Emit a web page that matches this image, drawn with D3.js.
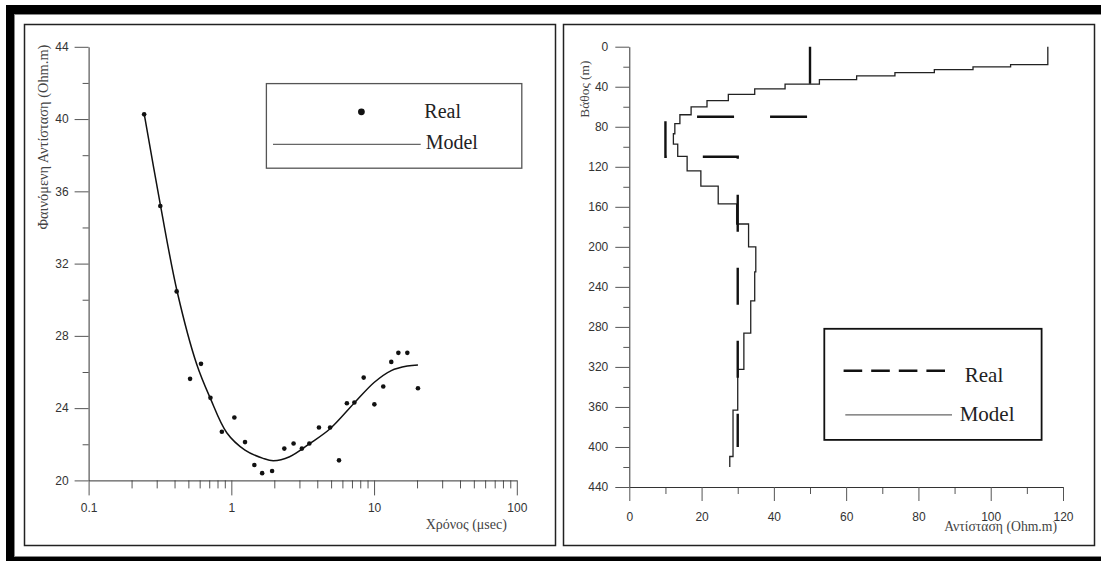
<!DOCTYPE html>
<html><head><meta charset="utf-8">
<script src="https://cdn.jsdelivr.net/npm/d3@7"></script>
<style>body{margin:0;background:#fff}svg{display:block}</style>
</head><body>
<svg id="c" width="1101" height="561"></svg>
<script>
// ---------- Left chart: apparent resistivity vs time ----------
const realTime = [0.245,0.318,0.414,0.514,0.613,0.714,0.858,1.05,1.247,1.45,1.644,1.93,2.35,2.73,3.12,3.52,4.11,4.92,5.68,6.45,7.28,8.46,10.05,11.6,13.2,14.8,17.1,20.3];
const realRho  = [40.26,35.19,30.46,25.62,26.45,24.57,22.69,23.48,22.12,20.85,20.40,20.52,21.76,22.04,21.76,22.04,22.93,22.93,21.11,24.27,24.31,25.69,24.21,25.20,26.56,27.06,27.06,25.10];
const modelTime = [0.245,0.32,0.418,0.572,0.713,0.929,1.247,1.67,1.97,2.56,3.56,4.92,7.24,10.0,13.2,17.1,20.3];
const modelRho  = [40.3,35.15,30.43,26.43,24.54,22.64,21.68,21.22,21.09,21.31,22.05,22.86,24.27,25.42,26.08,26.33,26.39];
const leftXTicks = [0.1,1,10,100];
const leftXMinor = [0.2,0.3,0.4,0.5,0.6,0.7,0.8,0.9,2,3,4,5,6,7,8,9,20,30,40,50,60,70,80,90];
const leftYTicks = [20,24,28,32,36,40,44];
const leftYMinor = [22,26,30,34,38,42];
const leftXTitle = "Χρόνος (μsec)";
const leftYTitle = "Φαινόμενη Αντίσταση (Ohm.m)";

// ---------- Right chart: resistivity vs depth ----------
const modelRes    = [115.8,105.5,95.1,84.4,73.5,62.9,52.6,43.1,34.7,27.4,21.5,17.1,14.0,12.6,12.2,13.4,16.0,19.8,24.6,29.7,33.0,35.0,34.7,33.6,31.7,30.0,28.7,27.8];
const modelTop    = [0,18,20.2,23,26,29.2,33,37.4,42.2,47.6,53.8,60.2,68,76.8,87,97.3,109.5,124,139.3,157,177.2,200,225,254,286.2,322.5,363.2,409.5];
const modelBottom = [18,20.2,23,26,29.2,33,37.4,42.2,47.6,53.8,60.2,68,76.8,87,97.3,109.5,124,139.3,157,177.2,200,225,254,286.2,322.5,363.2,409.5,420];
const realRes    = [50,10,30];
const realTop    = [0,70,110];
const realBottom = [70,110,400];
const rightXTicks = [0,20,40,60,80,100,120];
const rightXMinor = [10,30,50,70,90,110];
const rightYTicks = [0,40,80,120,160,200,240,280,320,360,400,440];
const rightYMinor = [20,60,100,140,180,220,260,300,340,380,420];
const rightXTitle = "Αντίσταση (Ohm.m)";
const rightYTitle = "Βάθος (m)";
const legendLabels = ["Real","Model"];

const svg = d3.select("#c");
const SANS = "'Liberation Sans', Arial, sans-serif";
const SERIF = "'Liberation Serif', 'Times New Roman', serif";

// ---------- frame ----------
svg.append("rect").attr("x",6).attr("y",5).attr("width",1095).attr("height",556).attr("fill","#000");
svg.append("rect").attr("x",14.5).attr("y",14.5).attr("width",1090).attr("height",542)
   .attr("fill","#fff").attr("stroke","#888").attr("stroke-width",1);
[[24.5,24.5],[563.5,24.5]].forEach(([x,y])=>{
  svg.append("rect").attr("x",x).attr("y",y).attr("width",531).attr("height",521)
     .attr("fill","#fff").attr("stroke","#222").attr("stroke-width",1.5);
});

function styleAxis(g){
  g.attr("font-family",SANS).attr("font-size",12);
  g.select(".domain").attr("stroke","#333").attr("stroke-width",1);
  g.selectAll(".tick line").attr("stroke","#555").attr("stroke-width",1);
  g.selectAll(".tick text").attr("fill","#333");
}
function minorAxis(g){
  g.select(".domain").remove();
  g.selectAll(".tick line").attr("stroke","#555").attr("stroke-width",1);
}

// ---------- left chart ----------
const x1 = d3.scaleLog().domain([0.1,100]).range([88.6,516.8]);
const y1 = d3.scaleLinear().domain([20,44]).range([480.4,46.8]);

svg.append("g").attr("transform","translate(88.6,0)")
  .call(d3.axisLeft(y1).tickValues(leftYMinor).tickSize(6).tickFormat("")).call(minorAxis);
svg.append("g").attr("transform","translate(88.6,0)")
  .call(d3.axisLeft(y1).tickValues(leftYTicks).tickSize(14).tickSizeOuter(0).tickPadding(6).tickFormat(d3.format("d"))).call(styleAxis);
svg.append("g").attr("transform","translate(0,480.4)")
  .call(d3.axisBottom(x1).tickValues(leftXMinor).tickSize(8).tickFormat("")).call(minorAxis);
svg.append("g").attr("transform","translate(0,480.4)")
  .call(d3.axisBottom(x1).tickValues(leftXTicks).tickSize(15).tickSizeOuter(0).tickPadding(8).tickFormat(d=>String(d))).call(styleAxis);

const modelPts = modelTime.map((t,i)=>[t,modelRho[i]]);
svg.append("path").datum(modelPts)
  .attr("d",d3.line().x(d=>x1(d[0])).y(d=>y1(d[1])).curve(d3.curveCatmullRom.alpha(0.5)))
  .attr("fill","none").attr("stroke","#111").attr("stroke-width",1.5);
svg.append("g").selectAll("circle").data(realTime.map((t,i)=>[t,realRho[i]])).join("circle")
  .attr("cx",d=>x1(d[0])).attr("cy",d=>y1(d[1])).attr("r",2.3).attr("fill","#111");

svg.append("text").attr("x",425.7).attr("y",529.3).attr("font-family",SERIF).attr("font-size",14)
  .attr("fill","#444").text(leftXTitle);
svg.append("text").attr("transform","translate(47.5,44.6) rotate(-90)").attr("text-anchor","end")
  .attr("font-family",SERIF).attr("font-size",14.4).attr("fill","#444").text(leftYTitle);

// left legend
const lg = svg.append("g");
lg.append("rect").attr("x",266.4).attr("y",83.6).attr("width",255.4).attr("height",84.6)
  .attr("fill","#fff").attr("stroke","#555").attr("stroke-width",1.3);
lg.append("circle").attr("cx",361.4).attr("cy",111.8).attr("r",3.4).attr("fill","#111");
lg.append("line").attr("x1",273).attr("x2",420.7).attr("y1",144.3).attr("y2",144.3)
  .attr("stroke","#666").attr("stroke-width",1.2);
lg.append("text").attr("x",424.3).attr("y",118).attr("font-family",SERIF).attr("font-size",20).attr("fill","#222").text(legendLabels[0]);
lg.append("text").attr("x",425.7).attr("y",149.3).attr("font-family",SERIF).attr("font-size",20).attr("fill","#222").text(legendLabels[1]);

// ---------- right chart ----------
const x2 = d3.scaleLinear().domain([0,120]).range([629.3,1063]);
const y2 = d3.scaleLinear().domain([0,440]).range([46.7,487]);

svg.append("g").attr("transform","translate(629.3,0)")
  .call(d3.axisLeft(y2).tickValues(rightYMinor).tickSize(6).tickFormat("")).call(minorAxis);
svg.append("g").attr("transform","translate(629.3,0)")
  .call(d3.axisLeft(y2).tickValues(rightYTicks).tickSize(14).tickSizeOuter(0).tickPadding(7)).call(styleAxis);
svg.append("g").attr("transform","translate(0,487)")
  .call(d3.axisBottom(x2).tickValues(rightXMinor).tickSize(7).tickFormat("")).call(minorAxis);
svg.append("g").attr("transform","translate(0,487)")
  .call(d3.axisBottom(x2).tickValues(rightXTicks).tickSize(14).tickSizeOuter(0).tickPadding(11)).call(styleAxis);

const stepPts = (res,top,bot)=>res.flatMap((r,i)=>[[r,top[i]],[r,bot[i]]]);
const lineR = d3.line().x(d=>x2(d[0])).y(d=>y2(d[1]));
svg.append("path").datum(stepPts(modelRes,modelTop,modelBottom)).attr("d",lineR)
  .attr("fill","none").attr("stroke","#222").attr("stroke-width",1.3);
svg.append("path").datum(stepPts(realRes,realTop,realBottom)).attr("d",lineR)
  .attr("fill","none").attr("stroke","#111").attr("stroke-width",2.4).attr("stroke-dasharray","37 36");

svg.append("text").attr("x",944.2).attr("y",531).attr("font-family",SERIF).attr("font-size",13.7)
  .attr("fill","#444").text(rightXTitle);
svg.append("text").attr("transform","translate(589,60.6) rotate(-90)").attr("text-anchor","end")
  .attr("font-family",SERIF).attr("font-size",13.4).attr("fill","#444").text(rightYTitle);

// right legend
const rg = svg.append("g");
rg.append("rect").attr("x",824.3).attr("y",328.8).attr("width",217.3).attr("height",111.1)
  .attr("fill","#fff").attr("stroke","#111").attr("stroke-width",1.8);
rg.append("line").attr("x1",843.6).attr("x2",945.9).attr("y1",370.7).attr("y2",370.7)
  .attr("stroke","#111").attr("stroke-width",2.4).attr("stroke-dasharray","18.6 9");
rg.append("line").attr("x1",845.3).attr("x2",952).attr("y1",414.8).attr("y2",414.8)
  .attr("stroke","#666").attr("stroke-width",1.2);
rg.append("text").attr("x",964.8).attr("y",381.9).attr("font-family",SERIF).attr("font-size",21).attr("fill","#222").text(legendLabels[0]);
rg.append("text").attr("x",959.7).attr("y",421.3).attr("font-family",SERIF).attr("font-size",21).attr("fill","#222").text(legendLabels[1]);
</script>
</body></html>
